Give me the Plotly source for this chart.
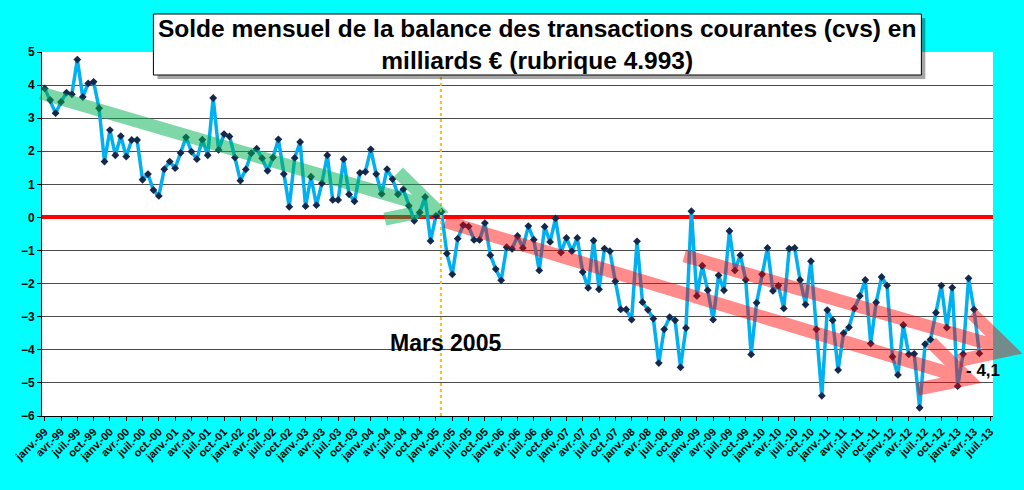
import math
import plotly.graph_objects as go

# Solde mensuel (milliards €), janv.-99 à mai-13
solde = [
    3.90, 3.55, 3.15, 3.49, 3.77, 3.72, 4.77, 3.64, 4.05, 4.10, 3.30, 1.69,
    2.64, 1.88, 2.46, 1.84, 2.34, 2.34, 1.14, 1.31, 0.83, 0.65, 1.46, 1.69,
    1.49, 1.95, 2.42, 1.99, 1.76, 2.35, 1.88, 3.61, 2.04, 2.52, 2.45, 1.81,
    1.11, 1.45, 1.94, 2.08, 1.79, 1.41, 1.81, 2.36, 1.31, 0.32, 1.80, 2.28,
    0.34, 1.23, 0.37, 1.03, 1.88, 0.53, 0.53, 1.76, 0.70, 0.49, 1.35, 1.38,
    2.06, 1.31, 0.71, 1.46, 1.16, 0.70, 0.85, 0.35, -0.10, 0.15, 0.62, -0.71,
    0.05, 0.17, -1.09, -1.72, -0.64, -0.23, -0.27, -0.68, -0.68, -0.17, -1.14, -1.56,
    -1.90, -0.90, -0.95, -0.56, -0.92, -0.26, -0.67, -1.60, -0.28, -0.74, -0.03, -1.06,
    -0.62, -1.02, -0.62, -1.65, -2.13, -0.70, -2.17, -0.94, -1.02, -1.93, -2.78, -2.78,
    -3.09, -0.72, -2.56, -2.79, -3.06, -4.40, -3.38, -3.01, -3.11, -4.53, -3.34, 0.19,
    -2.37, -1.46, -2.20, -3.09, -1.75, -2.20, -0.41, -1.60, -1.14, -1.89, -4.14, -2.58,
    -1.72, -0.92, -2.22, -2.06, -2.75, -0.94, -0.92, -1.89, -2.63, -1.32, -3.38, -5.39,
    -2.80, -3.11, -4.61, -3.50, -3.32, -2.75, -2.37, -1.89, -3.81, -2.57, -1.80, -2.06,
    -4.21, -4.76, -3.25, -4.14, -4.12, -5.75, -3.83, -3.69, -2.88, -2.06, -3.33, -2.12,
    -5.10, -4.13, -1.84, -2.78, -4.11,
]

trimestres = ["janv.", "avr.", "juil.", "oct."]
annees = ["99", "00", "01", "02", "03", "04", "05", "06", "07", "08", "09",
          "10", "11", "12", "13"]
n_mois = 175  # axe de janv.-99 à juil.-13
etiquettes = [f"{t}-{a}" for a in annees for t in trimestres][: n_mois // 3 + 1]
pos_etiquettes = list(range(0, n_mois, 3))

y_min, y_max = -6, 5
mars_2005 = 72.9

# fleches (début -> pointe), en unités des axes
fleche_verte = (-0.7, 3.76, 71.9, 0.27)
fleche_rouge_bas = (73.7, -0.12, 169.9, -4.88)
fleche_rouge_haut = (117.7, -1.16, 177.5, -4.0)

W, H = 956, 364  # taille de la zone de tracé en px
L, T = 37, 52


def vers_px(x, y):
    return (x + 0.5) * W / n_mois, (y - y_min) * H / (y_max - y_min)


def fleche(x0, y0, x1, y1, longueur=52, angle=28):
    X0, Y0 = vers_px(x0, y0)
    X1, Y1 = vers_px(x1, y1)
    d = math.hypot(X1 - X0, Y1 - Y0)
    bx, by = (X0 - X1) / d, (Y0 - Y1) / d
    pts = []
    for s in (1, -1):
        a = math.radians(angle * s)
        wx = bx * math.cos(a) - by * math.sin(a)
        wy = bx * math.sin(a) + by * math.cos(a)
        pts.append((X1 + longueur * wx, Y1 + longueur * wy))
    p = lambda X, Y: f"{X / W:.4f},{Y / H:.4f}"
    return (f"M{p(X0, Y0)} L{p(X1, Y1)} "
            f"M{p(*pts[0])} L{p(X1, Y1)} L{p(*pts[1])}")


def px_paper(px, py):
    return (px - L) / W, (T + H - py) / H


fig = go.Figure()
fig.add_trace(go.Scatter(
    x=list(range(len(solde))), y=solde, mode="lines+markers",
    line=dict(color="#00B0F0", width=3.5),
    marker=dict(symbol="diamond", size=6, color="#14284B"),
    hoverinfo="skip",
))

shapes = [
    dict(type="line", xref="x", yref="paper", x0=mars_2005, x1=mars_2005,
         y0=0, y1=1, line=dict(color="#FFC000", width=2, dash="dot"), layer="above"),
]
for (f, c, op) in [(fleche_verte, "#00B050", 0.5),
                   (fleche_rouge_bas, "#FF0000", 0.45),
                   (fleche_rouge_haut, "#FF0000", 0.45)]:
    shapes.append(dict(type="path", xref="paper", yref="paper", path=fleche(*f),
                       line=dict(color=c, width=13), opacity=op, layer="above"))

# cadre du titre avec ombre
bx0, by0 = px_paper(149, 14)
bx1, by1 = px_paper(921, 75)
sx0, sy0 = px_paper(153, 18)
sx1, sy1 = px_paper(925, 79)
shapes.append(dict(type="rect", xref="paper", yref="paper", x0=sx0, y0=sy0, x1=sx1, y1=sy1,
                   fillcolor="rgba(0,0,0,0.35)", line=dict(width=0), layer="above"))
shapes.append(dict(type="rect", xref="paper", yref="paper", x0=bx0, y0=by0, x1=bx1, y1=by1,
                   fillcolor="white", line=dict(color="black", width=1), layer="above"))

police = "Liberation Sans, Arial, sans-serif"
annotations = [
    dict(xref="paper", yref="paper", x=(bx0 + bx1) / 2, y=(by0 + by1) / 2,
         text="Solde mensuel de la balance des transactions courantes (cvs) en<br>"
              "milliards € (rubrique 4.993)",
         showarrow=False, xanchor="center", yanchor="middle",
         font=dict(family=police, size=24.5, color="black", weight="bold")),
    dict(x=73.8, y=-3.8, text="Mars 2005", showarrow=False,
         font=dict(family=police, size=23, color="black", weight="bold")),
    dict(x=172.7, y=-4.62, text="- 4,1", showarrow=False,
         font=dict(family=police, size=17, color="black", weight="bold")),
]

fig.update_layout(
    width=1024, height=490,
    margin=dict(l=L, r=1024 - L - W, t=T, b=490 - T - H),
    paper_bgcolor="#00FFFF", plot_bgcolor="white",
    showlegend=False,
    shapes=shapes, annotations=annotations,
    font=dict(family=police, color="black"),
)
fig.update_xaxes(
    range=[-0.5, n_mois - 0.5], tickmode="array", tickvals=pos_etiquettes,
    ticktext=etiquettes, tickangle=-45, showgrid=False, showline=True,
    linecolor="black", ticks="outside", ticklen=4, tickcolor="black",
    tickfont=dict(size=11, weight="bold"), zeroline=False,
)
fig.update_yaxes(
    range=[y_min, y_max], dtick=1, showgrid=True, gridcolor="#4d4d4d", gridwidth=1,
    showline=True, linecolor="black", ticks="outside", ticklen=4, tickcolor="black",
    tickfont=dict(size=12, weight="bold"), zeroline=True, zerolinecolor="#FF0000",
    zerolinewidth=3.5,
)

fig.write_html("out.html", config={"displayModeBar": False},
               post_script="document.body.style.margin='0';")
